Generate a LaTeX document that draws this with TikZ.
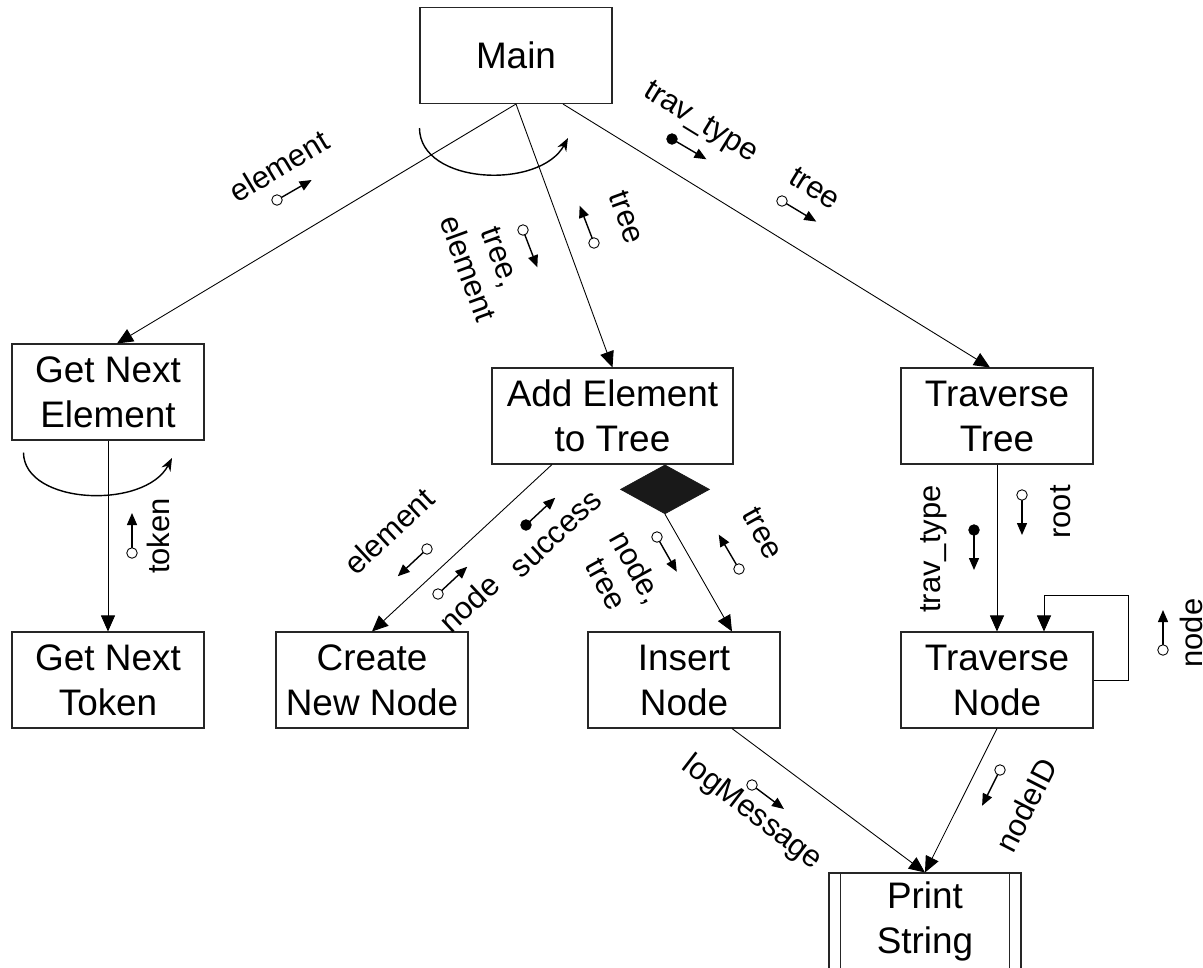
\documentclass[tikz,border=0pt]{standalone}
\usepackage{fontspec}
\setmainfont{Liberation Sans}
\usetikzlibrary{shapes.geometric,arrows.meta,calc}
\newcommand{\boxfont}{\fontsize{21}{25.6}\selectfont}
\newcommand{\flowfont}{\fontsize{17.6}{20}\selectfont}
\tikzstyle{proc} = [rectangle, minimum width=3.84cm, minimum height=1.92cm, inner sep=0pt, align=center, draw=black!85, line width=0.6pt, font=\boxfont]
\tikzstyle{wideproc} = [proc, minimum width=4.82cm]
\tikzstyle{decision} = [diamond, aspect=1.8, minimum width=1.78cm, minimum height=0.98cm, inner sep=0pt, draw=black!90, fill=black!90]
\tikzstyle{arrow} = [line width=0.5pt,->,>={Triangle[length=0.32cm,width=0.28cm]}]
\tikzstyle{iter} = [line width=0.8pt,->,>={Stealth[length=0.26cm,width=0.2cm]}]
\tikzstyle{couple} = [line width=0.8pt,->,>={Triangle[length=0.24cm,width=0.2cm]}]
\tikzstyle{lbl} = [font=\flowfont, align=center, inner sep=0pt]
% tail point, direction, circle fill
\newcommand{\flowcouple}[3]{%
  \draw[couple] #1 -- ++(#2:0.8cm);
  \draw[line width=0.5pt, fill=#3] #1 circle (0.105cm);}

\begin{document}
\begin{tikzpicture}[node distance=5.28cm]
  \useasboundingbox (0,0) rectangle (24.06,-19.36);
  \node (main)[proc] at (10.32,-1.11) {Main};
  \node (gne)[proc] at (2.16,-7.84) {Get Next\\Element};
  \node (aet)[wideproc] at (12.25,-8.32) {Add Element\\to Tree};
  \node (tt)[proc] at (19.94,-8.32) {Traverse\\Tree};
  \node (gnt)[proc, below of=gne, yshift=-0.48cm] {Get Next\\Token};
  \node (inode)[proc, below of=aet, xshift=1.43cm] {Insert\\Node};
  \node (cnn)[proc, left of=inode, xshift=-0.96cm] {Create\\New Node};
  \node (tn)[proc, below of=tt] {Traverse\\Node};
  \node (ps)[proc, below of=tn, xshift=-1.44cm, yshift=0.46cm] {Print\\String};
  \draw[line width=0.6pt, black!85] ([xshift=0.24cm]ps.north west) -- ([xshift=0.24cm]ps.south west);
  \draw[line width=0.6pt, black!85] ([xshift=-0.24cm]ps.north east) -- ([xshift=-0.24cm]ps.south east);
  \node (dec)[decision, anchor=north] at ([xshift=1.05cm]aet.south) {};

  % calls
  \draw[arrow] (main.south) -- ([xshift=0.18cm]gne.north);
  \draw[arrow] (main.south) -- (aet.north);
  \draw[arrow] ([xshift=0.94cm]main.south) -- ([xshift=-0.14cm]tt.north);
  \draw[arrow] (gne) -- (gnt);
  \draw[arrow] ([xshift=-1.21cm]aet.south) -- (cnn.north);
  \draw[arrow] (dec.south) -- ([xshift=0.96cm]inode.north);
  \draw[arrow] (tt) -- (tn);
  \coordinate (loop) at ([xshift=0.94cm,yshift=0.72cm]tn.north);
  \draw[arrow] (tn.east) -- ++(0.7,0) |- (loop) -- ([xshift=0.94cm]tn.north);
  \draw[arrow] ([xshift=0.96cm]inode.south) -- (ps.north);
  \draw[arrow] (tn.south) -- (ps.north);

  % iterations
  \draw[iter] ([yshift=-0.48cm]main.south west) .. controls (8.4,-3.7) and (10.8,-3.8) .. (11.36,-2.76);
  \draw[iter] ([xshift=0.24cm,yshift=-0.24cm]gne.south west) .. controls (0.48,-10.1) and (2.9,-10.2) .. (3.44,-9.16);

  % couples
  \node (lelem1)[lbl, rotate=31] at (5.58,-3.32) {element};
  \flowcouple{(5.54,-4.0)}{30}{white}
  \node (ltreeelem)[lbl, rotate=-70] at (9.68,-5.26) {tree,\\element};
  \flowcouple{(10.46,-4.6)}{-69}{white}
  \node (ltree1)[lbl, rotate=-70] at (12.54,-4.34) {tree};
  \flowcouple{(11.88,-4.86)}{111}{white}
  \node (ltrav1)[lbl, rotate=-31.5] at (14.0,-2.46) {trav\_type};
  \flowcouple{(13.44,-2.78)}{-30.5}{black}
  \node (ltree2)[lbl, rotate=-31.5] at (16.3,-3.76) {tree};
  \flowcouple{(15.64,-4.02)}{-31}{white}
  \node (ltoken)[lbl, rotate=90] at (3.16,-10.72) {token};
  \flowcouple{(2.64,-11.06)}{90}{white}
  \node (lelem2)[lbl, rotate=43] at (7.78,-10.62) {element};
  \flowcouple{(8.54,-10.98)}{223}{white}
  \node (lnode1)[lbl, rotate=43] at (9.38,-12.06) {node};
  \flowcouple{(8.76,-11.88)}{43}{white}
  \node (lsuccess)[lbl, rotate=43] at (11.14,-10.7) {success};
  \flowcouple{(10.52,-10.5)}{43}{black}
  \node (lnodetree)[lbl, rotate=-61] at (12.44,-11.5) {node,\\tree};
  \flowcouple{(13.14,-10.74)}{-60.3}{white}
  \node (ltree3)[lbl, rotate=-61] at (15.26,-10.66) {tree};
  \flowcouple{(14.78,-11.38)}{120.5}{white}
  \node (ltrav2)[lbl, rotate=90] at (18.68,-10.98) {trav\_type};
  \flowcouple{(19.48,-10.6)}{-90}{black}
  \node (lroot)[lbl, rotate=90] at (21.22,-10.24) {root};
  \flowcouple{(20.44,-9.9)}{-90}{white}
  \node (lnode2)[lbl, rotate=90] at (23.82,-12.66) {node};
  \flowcouple{(23.26,-13.0)}{90}{white}
  \node (llog)[lbl, rotate=-37.5] at (15.04,-16.26) {logMessage};
  \flowcouple{(15.04,-15.7)}{-36.9}{white}
  \node (lnodeid)[lbl, rotate=63] at (20.52,-16.1) {nodeID};
  \flowcouple{(20.0,-15.4)}{243.4}{white}
\end{tikzpicture}
\end{document}
